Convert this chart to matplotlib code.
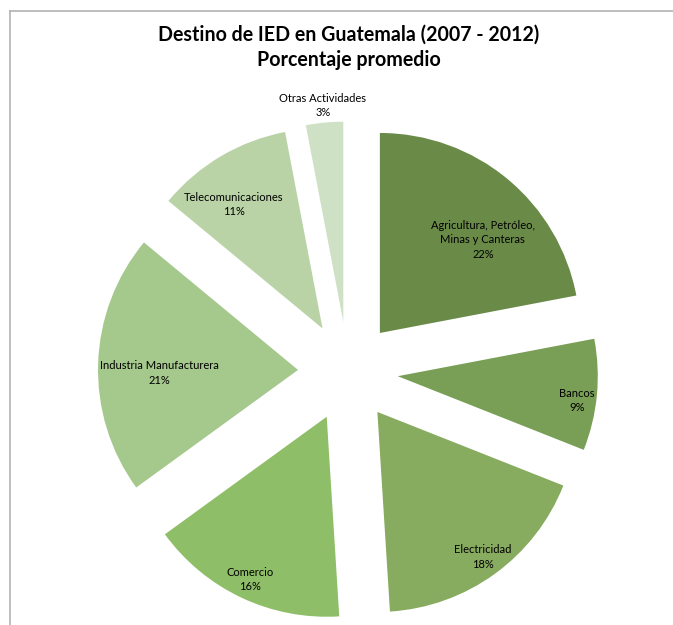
import numpy as np
import matplotlib
matplotlib.use("Agg")
import matplotlib.pyplot as plt
from matplotlib.lines import Line2D

# Data
categories = ["Agricultura, Petróleo,\nMinas y Canteras", "Bancos", "Electricidad",
              "Comercio", "Industria Manufacturera", "Telecomunicaciones", "Otras Actividades"]
values = [22, 9, 18, 16, 21, 11, 3]

colors = ["#6a8a48", "#799e55", "#87ab5f", "#8fbe68", "#a5c88c", "#b9d3a6", "#cfe1c5"]
# label placement (fraction of radius from wedge apex, angular offset in degrees)
label_r = [0.694, 0.903, 0.897, 0.90, 0.695, 0.762, 1.085]
label_da = [-8.3, -2.3, 0.0, 0.0, 3.0, 4.9, 0.0]

W, H = 673, 625
fig = plt.figure(figsize=(W / 100, H / 100), dpi=100)
ax = fig.add_axes([0, 0, 1, 1])

center = (348, H - 371.5)
radius = 200
expl = 50
wedges, _ = ax.pie(values, colors=colors, startangle=90, counterclock=False,
                   center=center, radius=radius, explode=[expl] * len(values),
                   wedgeprops=dict(linewidth=0), frame=True)
ax.set_xlim(0, W)
ax.set_ylim(0, H)
ax.set_aspect("equal")
ax.axis("off")

font = "Lato"
total = sum(values)
for w, cat, v, fr, da in zip(wedges, categories, values, label_r, label_da):
    mid = np.deg2rad((w.theta1 + w.theta2) / 2 + da)
    cx, cy = w.center
    x = cx + fr * radius * np.cos(mid)
    y = cy + fr * radius * np.sin(mid)
    ax.text(x, y, f"{cat}\n{round(100 * v / total)}%", ha="center", va="center",
            fontsize=8, family=font, color="#000000", linespacing=1.38)

fig.text(349 / W, 1 - 47.5 / H, "Destino de IED en Guatemala (2007 - 2012)\nPorcentaje promedio",
         ha="center", va="center", fontsize=14.1, fontweight="bold", family=font,
         linespacing=1.35, color="#000000")

# chart area border (top and left only visible)
fig.add_artist(Line2D([10 / W, 1], [1 - 11 / H, 1 - 11 / H], color="#b3b3b3", lw=1.2,
                      transform=fig.transFigure))
fig.add_artist(Line2D([10 / W, 10 / W], [0, 1 - 11 / H], color="#b3b3b3", lw=1.2,
                      transform=fig.transFigure))

fig.savefig("out.png", dpi=100, facecolor="white")
